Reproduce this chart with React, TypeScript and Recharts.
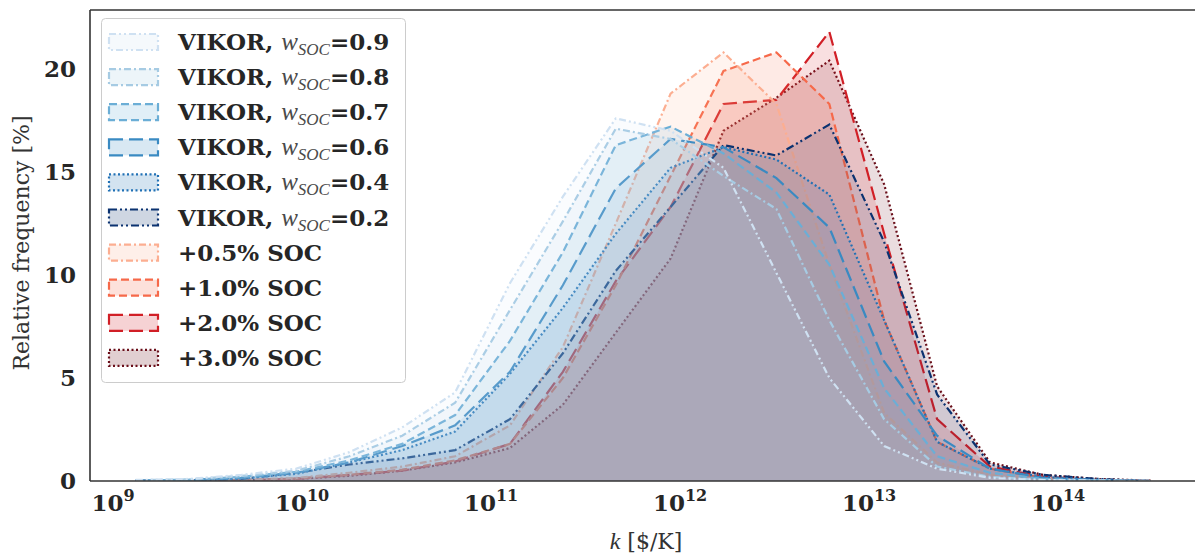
import React from 'react';
import { ComposedChart, Area, XAxis, YAxis, ReferenceLine, Legend } from 'recharts';

// bin centres, log10(k) in $/K
const K_EXP = [9.12, 9.40, 9.68, 9.97, 10.25, 10.53, 10.81, 11.10, 11.38, 11.66, 11.95, 12.23, 12.51, 12.79, 13.08, 13.36, 13.64, 13.92, 14.21, 14.49];

const W09 = [0.05, 0.1, 0.3, 0.6, 1.4, 2.6, 4.3, 9.6, 13.8, 17.6, 17.0, 15.2, 10.1, 5.0, 1.7, 0.6, 0.15, 0.05, 0.02, 0];
const W08 = [0.04, 0.08, 0.25, 0.5, 1.2, 2.2, 3.8, 8.3, 12.6, 17.1, 16.6, 14.8, 13.2, 7.8, 3.0, 0.7, 0.2, 0.05, 0.02, 0];
const W07 = [0.03, 0.06, 0.2, 0.45, 1.0, 1.8, 3.2, 6.8, 11.1, 16.3, 17.2, 15.9, 14.0, 10.5, 4.5, 1.2, 0.4, 0.1, 0.03, 0];
const W06 = [0.02, 0.05, 0.15, 0.4, 0.9, 1.7, 2.7, 5.3, 9.5, 14.2, 16.6, 16.2, 14.7, 12.3, 5.8, 2.2, 0.6, 0.15, 0.05, 0];
const W04 = [0.02, 0.04, 0.12, 0.35, 0.9, 1.5, 2.4, 5.2, 8.4, 12.0, 15.2, 16.2, 15.6, 13.9, 7.8, 1.9, 0.6, 0.2, 0.05, 0];
const W02 = [0.01, 0.03, 0.1, 0.4, 0.8, 1.1, 1.5, 3.0, 6.2, 10.2, 13.3, 16.3, 15.8, 17.3, 11.6, 4.2, 0.8, 0.3, 0.1, 0];
const S05 = [0, 0.02, 0.05, 0.15, 0.4, 0.7, 1.2, 2.7, 6.5, 12.5, 18.8, 20.8, 18.3, 10.5, 3.3, 0.9, 0.3, 0.1, 0.03, 0];
const S10 = [0, 0.02, 0.05, 0.12, 0.3, 0.55, 1.0, 1.8, 5.0, 9.5, 14.8, 19.9, 20.8, 18.3, 7.8, 1.9, 0.6, 0.15, 0.05, 0];
const S20 = [0, 0.01, 0.04, 0.1, 0.3, 0.5, 0.95, 1.8, 5.3, 9.7, 13.3, 18.3, 18.5, 21.8, 12.0, 3.0, 0.7, 0.2, 0.05, 0];
const S30 = [0, 0.01, 0.03, 0.1, 0.25, 0.5, 0.9, 1.6, 3.7, 7.2, 10.8, 17.0, 18.6, 20.4, 14.4, 4.6, 0.9, 0.3, 0.1, 0.02];

const W_LABELS = ['0.9', '0.8', '0.7', '0.6', '0.4', '0.2'];
const SOC_LABELS = ['+0.5% SOC', '+1.0% SOC', '+2.0% SOC', '+3.0% SOC'];
const X_TICK_EXP = [9, 10, 11, 12, 13, 14];
const Y_TICKS = [0, 5, 10, 15, 20];

const X_MIN = Math.pow(10, 8.878);
const X_MAX = Math.pow(10, 14.73);
const Y_MAX = 22.86;

const SERIES_VALUES = [W09, W08, W07, W06, W04, W02, S05, S10, S20, S30];
const COLORS = ['#cfe1f2', '#a6cbe3', '#6baed6', '#3a8ac2', '#2171b5', '#0b3270', '#fcae91', '#f6694a', '#d11f26', '#6a0f1a'];
const DASHES = ['7 3 2 3 2 3', '7 3 2 3', '8 4', '14 6', '2 2.5', '8 3 2 3 2 3', '7 3 2 3', '8 4', '14 6', '2 2.5'];
const FILL_OPS = [0.11, 0.11, 0.11, 0.11, 0.11, 0.11, 0.14, 0.14, 0.14, 0.14];

const KEYS = SERIES_VALUES.map((_, i) => 's' + i);
const rows = K_EXP.map((e, i) => {
  const r: any = { k: Math.pow(10, e) };
  SERIES_VALUES.forEach((arr, j) => { r[KEYS[j]] = arr[i]; });
  return r;
});
// drawn from the last series to the first, so the VIKOR w=0.9 curve ends on top
const DRAW_ORDER = KEYS.map((_, i) => KEYS.length - 1 - i);

const FONT = 'DejaVu Serif';
const MATH = 'Liberation Serif';
const TXT = '#262626';
const FS = 23;

const XTick = (props: any) => {
  const { x, y, payload } = props;
  const e = Math.round(Math.log10(payload.value));
  return (
    <text x={x} y={y + 30} textAnchor="middle" fontFamily={FONT} fontWeight="bold" fontSize={FS} fill={TXT}>
      <tspan>10</tspan>
      <tspan fontSize={16} dy={-10}>{e}</tspan>
    </text>
  );
};

const YTick = (props: any) => {
  const { x, y, payload } = props;
  return (
    <text x={x} y={y + 8} textAnchor="end" fontFamily={FONT} fontWeight="bold" fontSize={FS} fill={TXT}>
      {payload.value}
    </text>
  );
};

const LegendBox = () => {
  const rowH = 35.1;
  return (
    <svg width={306} height={366} style={{ display: 'block' }}>
      <rect x={0.5} y={0.5} width={304} height={364} rx={4} ry={4} fill="#fff" fillOpacity={0.85} stroke="#cccccc" strokeWidth={1} />
      {KEYS.map((key, i) => {
        const cy = 24 + i * rowH;
        const isW = i < W_LABELS.length;
        return (
          <g key={key}>
            <rect x={8} y={cy - 8} width={49} height={16} fill={COLORS[i]} fillOpacity={0.2} stroke={COLORS[i]} strokeWidth={2.2} strokeDasharray={DASHES[i]} />
            {isW ? (
              <text x={77} y={cy + 8} fontFamily={FONT} fontSize={FS} fill={TXT}>
                <tspan fontWeight="bold">VIKOR, </tspan>
                <tspan fontFamily={MATH} fontStyle="italic" fontSize={25} fill="#4a4a4a">w</tspan>
                <tspan fontFamily={MATH} fontStyle="italic" fontSize={17} dy={5} fill="#4a4a4a">SOC</tspan>
                <tspan fontWeight="bold" dy={-5}>={W_LABELS[i]}</tspan>
              </text>
            ) : (
              <text x={77} y={cy + 8} fontFamily={FONT} fontSize={FS} fontWeight="bold" fill={TXT}>
                {SOC_LABELS[i - W_LABELS.length]}
              </text>
            )}
          </g>
        );
      })}
    </svg>
  );
};

export default function App() {
  return (
    <div style={{ position: 'fixed', left: 0, top: 0, width: 1195, height: 553, overflow: 'hidden', background: '#fff' }}>
      <ComposedChart width={1200} height={553} data={rows} margin={{ top: 10, right: 4, bottom: 0, left: 0 }}>
        <XAxis
          dataKey="k"
          type="number"
          scale="log"
          domain={[X_MIN, X_MAX]}
          ticks={X_TICK_EXP.map((e) => Math.pow(10, e))}
          allowDataOverflow
          height={72}
          axisLine={{ stroke: '#333', strokeWidth: 1.6 }}
          tickLine={false}
          tickSize={0}
          tickMargin={0}
          tick={<XTick />}
          label={{
            content: () => (
              <text x={646} y={549} textAnchor="middle" fontFamily={FONT} fontSize={22} fill="#333">
                <tspan fontFamily={MATH} fontStyle="italic" fontSize={24}>k</tspan>
                <tspan> [$/K]</tspan>
              </text>
            ),
          }}
        />
        <YAxis
          type="number"
          domain={[0, Y_MAX]}
          ticks={Y_TICKS}
          allowDataOverflow
          width={90}
          axisLine={{ stroke: '#333', strokeWidth: 1.6 }}
          tickLine={false}
          tickSize={0}
          tickMargin={14}
          tick={<YTick />}
          label={{
            content: () => (
              <text x={0} y={0} transform="translate(29,243) rotate(-90)" textAnchor="middle" fontFamily={FONT} fontSize={22} fill="#333">
                Relative frequency [%]
              </text>
            ),
          }}
        />
        <ReferenceLine y={Y_MAX} stroke="#333" strokeWidth={1.6} />
        {DRAW_ORDER.map((i) => (
          <Area
            key={KEYS[i]}
            type="linear"
            dataKey={KEYS[i]}
            stroke={COLORS[i]}
            strokeWidth={2.2}
            strokeDasharray={DASHES[i]}
            fill={COLORS[i]}
            fillOpacity={FILL_OPS[i]}
            dot={false}
            activeDot={false}
            isAnimationActive={false}
          />
        ))}
        <Legend
          layout="vertical"
          align="center"
          verticalAlign="middle"
          content={<LegendBox />}
          wrapperStyle={{ position: 'absolute', left: 101, top: 18, width: 306, height: 366 }}
        />
      </ComposedChart>
    </div>
  );
}
